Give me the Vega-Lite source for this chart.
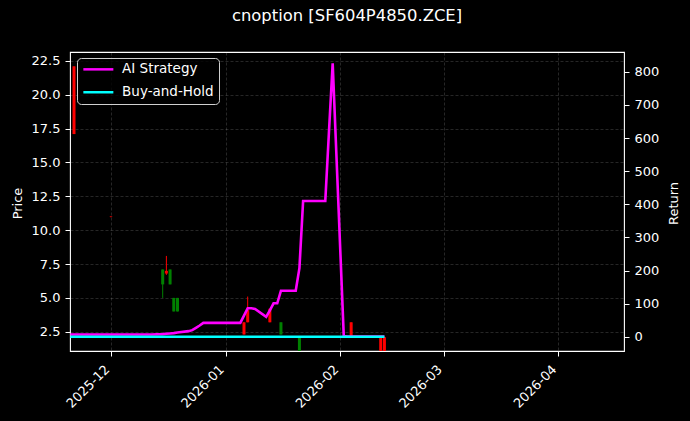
{
  "$schema": "https://vega.github.io/schema/vega-lite/v6.json",
  "width": 554,
  "height": 299,
  "autosize": "none",
  "padding": {"left": 70, "top": 52, "right": 66, "bottom": 70},
  "background": "#000000",
  "title": {
    "text": "cnoption [SF604P4850.ZCE]",
    "font": "DejaVu Sans",
    "fontSize": 16.4,
    "fontWeight": "normal",
    "color": "#ffffff",
    "anchor": "middle",
    "frame": "group",
    "baseline": "alphabetic",
    "offset": 15
  },
  "config": {
    "view": {"stroke": "#ffffff", "strokeWidth": 1.1},
    "font": "DejaVu Sans",
    "axis": {
      "labelColor": "#ffffff",
      "labelFont": "DejaVu Sans",
      "labelFontSize": 13,
      "labelPadding": 5,
      "titleColor": "#ffffff",
      "titleFont": "DejaVu Sans",
      "titleFontSize": 13,
      "titleFontWeight": "normal",
      "tickColor": "#ffffff",
      "tickSize": 5,
      "tickWidth": 1,
      "domain": false,
      "grid": true,
      "gridColor": "#ffffff",
      "gridOpacity": 0.25,
      "gridDash": [3, 2],
      "gridWidth": 0.6
    },
    "legend": {
      "orient": "none",
      "legendX": 7,
      "legendY": 6,
      "direction": "vertical",
      "symbolType": "M-1,0H5",
      "symbolSize": 100,
      "symbolStrokeWidth": 2.5,
      "labelFont": "DejaVu Sans",
      "labelFontSize": 13.5,
      "labelColor": "#ffffff",
      "labelOffset": 27,
      "padding": 4.6,
      "rowPadding": 7.9,
      "fillColor": "rgba(0,0,0,0.8)",
      "strokeColor": "#d0d0d0",
      "cornerRadius": 4
    }
  },
  "datasets": {
    "candles": [
      {"date": "2025-11-21", "open": 22.1, "high": 22.1, "low": 17.1, "close": 17.1},
      {"date": "2025-12-01", "open": 11.02, "high": 11.05, "low": 10.95, "close": 11.0},
      {"date": "2025-12-15", "open": 6.0, "high": 7.1, "low": 5.0, "close": 7.1},
      {"date": "2025-12-16", "open": 7.0, "high": 8.1, "low": 6.7, "close": 6.8},
      {"date": "2025-12-17", "open": 6.0, "high": 7.1, "low": 6.0, "close": 7.1},
      {"date": "2025-12-18", "open": 4.0, "high": 5.0, "low": 4.0, "close": 5.0},
      {"date": "2025-12-19", "open": 4.0, "high": 5.0, "low": 4.0, "close": 5.0},
      {"date": "2026-01-06", "open": 3.2, "high": 3.2, "low": 2.3, "close": 2.3},
      {"date": "2026-01-07", "open": 4.1, "high": 5.1, "low": 3.2, "close": 3.2},
      {"date": "2026-01-13", "open": 4.2, "high": 4.2, "low": 3.2, "close": 3.2},
      {"date": "2026-01-16", "open": 2.3, "high": 3.2, "low": 2.3, "close": 3.2},
      {"date": "2026-01-21", "open": 0.9, "high": 2.1, "low": 0.9, "close": 2.1},
      {"date": "2026-02-04", "open": 3.2, "high": 3.2, "low": 2.2, "close": 2.2},
      {"date": "2026-02-12", "open": 2.1, "high": 2.1, "low": 0.5, "close": 0.5},
      {"date": "2026-02-13", "open": 2.1, "high": 2.1, "low": 0.5, "close": 0.5}
    ],
    "returns": [
      {"date": "2025-11-20", "ai": 7, "bh": 0},
      {"date": "2025-11-21", "ai": 7, "bh": 0},
      {"date": "2025-11-24", "ai": 7, "bh": 0},
      {"date": "2025-11-25", "ai": 7, "bh": 0},
      {"date": "2025-11-26", "ai": 7, "bh": 0},
      {"date": "2025-11-27", "ai": 7, "bh": 0},
      {"date": "2025-11-28", "ai": 7, "bh": 0},
      {"date": "2025-12-01", "ai": 7, "bh": 0},
      {"date": "2025-12-02", "ai": 7, "bh": 0},
      {"date": "2025-12-03", "ai": 7, "bh": 0},
      {"date": "2025-12-04", "ai": 7, "bh": 0},
      {"date": "2025-12-05", "ai": 7, "bh": 0},
      {"date": "2025-12-08", "ai": 7, "bh": 0},
      {"date": "2025-12-09", "ai": 7, "bh": 0},
      {"date": "2025-12-10", "ai": 7, "bh": 0},
      {"date": "2025-12-11", "ai": 7, "bh": 0},
      {"date": "2025-12-12", "ai": 7, "bh": 0},
      {"date": "2025-12-15", "ai": 8, "bh": 0},
      {"date": "2025-12-16", "ai": 9, "bh": 0},
      {"date": "2025-12-17", "ai": 10, "bh": 0},
      {"date": "2025-12-18", "ai": 11, "bh": 0},
      {"date": "2025-12-19", "ai": 13, "bh": 0},
      {"date": "2025-12-22", "ai": 17, "bh": 0},
      {"date": "2025-12-23", "ai": 20, "bh": 0},
      {"date": "2025-12-24", "ai": 27, "bh": 0},
      {"date": "2025-12-25", "ai": 34, "bh": 0},
      {"date": "2025-12-26", "ai": 42, "bh": 0},
      {"date": "2025-12-29", "ai": 42, "bh": 0},
      {"date": "2025-12-30", "ai": 42, "bh": 0},
      {"date": "2025-12-31", "ai": 42, "bh": 0},
      {"date": "2026-01-05", "ai": 42, "bh": 0},
      {"date": "2026-01-06", "ai": 64, "bh": 0},
      {"date": "2026-01-07", "ai": 86, "bh": 0},
      {"date": "2026-01-08", "ai": 86, "bh": 0},
      {"date": "2026-01-09", "ai": 84, "bh": 0},
      {"date": "2026-01-12", "ai": 60, "bh": 0},
      {"date": "2026-01-13", "ai": 80, "bh": 0},
      {"date": "2026-01-14", "ai": 101, "bh": 0},
      {"date": "2026-01-15", "ai": 101, "bh": 0},
      {"date": "2026-01-16", "ai": 139, "bh": 0},
      {"date": "2026-01-19", "ai": 139, "bh": 0},
      {"date": "2026-01-20", "ai": 139, "bh": 0},
      {"date": "2026-01-21", "ai": 207, "bh": 0},
      {"date": "2026-01-22", "ai": 410, "bh": 0},
      {"date": "2026-01-23", "ai": 410, "bh": 0},
      {"date": "2026-01-26", "ai": 410, "bh": 0},
      {"date": "2026-01-27", "ai": 410, "bh": 0},
      {"date": "2026-01-28", "ai": 410, "bh": 0},
      {"date": "2026-01-29", "ai": 620, "bh": 0},
      {"date": "2026-01-30", "ai": 826, "bh": 0},
      {"date": "2026-02-02", "ai": 2, "bh": 0},
      {"date": "2026-02-03", "ai": 1, "bh": 0},
      {"date": "2026-02-04", "ai": 1, "bh": 0},
      {"date": "2026-02-05", "ai": 1, "bh": 0},
      {"date": "2026-02-06", "ai": 1, "bh": 0},
      {"date": "2026-02-09", "ai": 1, "bh": 0},
      {"date": "2026-02-10", "ai": 1, "bh": 0},
      {"date": "2026-02-11", "ai": 1, "bh": 0},
      {"date": "2026-02-12", "ai": 1, "bh": 0},
      {"date": "2026-02-13", "ai": 1, "bh": 0}
    ]
  },
  "encoding": {
    "x": {
      "field": "date",
      "type": "temporal",
      "scale": {
        "type": "utc",
        "domain": [
          {"year": 2025, "month": 11, "date": 19, "hours": 22, "utc": true},
          {"year": 2026, "month": 4, "date": 18, "hours": 20, "utc": true}
        ],
        "nice": false
      },
      "axis": {
        "title": null,
        "values": [
          {"year": 2025, "month": 12, "date": 1, "utc": true},
          {"year": 2026, "month": 1, "date": 1, "utc": true},
          {"year": 2026, "month": 2, "date": 1, "utc": true},
          {"year": 2026, "month": 3, "date": 1, "utc": true},
          {"year": 2026, "month": 4, "date": 1, "utc": true}
        ],
        "format": "%Y-%m",
        "labelAngle": -45,
        "labelAlign": "right",
        "labelBaseline": "middle",
        "labelPadding": 11,
        "labelOffset": -4
      }
    }
  },
  "layer": [
    {
      "data": {"name": "candles"},
      "encoding": {
        "y": {
          "field": "low",
          "type": "quantitative",
          "scale": {"domain": [1.08, 23.16], "nice": false, "zero": false},
          "axis": {
            "orient": "left",
            "title": "Price",
            "values": [2.5, 5, 7.5, 10, 12.5, 15, 17.5, 20, 22.5],
            "format": ".1f",
            "titleAngle": 270,
            "titleBaseline": "alphabetic",
            "titleX": -48.3,
            "titleY": 151
          }
        },
        "y2": {"field": "high"},
        "color": {
          "condition": {"test": "datum.close >= datum.open", "value": "#008000"},
          "value": "#ff0000"
        }
      },
      "layer": [
        {"mark": {"type": "rule", "strokeWidth": 1, "clip": true}},
        {
          "mark": {"type": "rule", "strokeWidth": 3, "clip": true},
          "encoding": {
            "y": {
              "field": "open",
              "type": "quantitative",
              "scale": {"domain": [1.08, 23.16], "nice": false, "zero": false},
              "axis": {
                "orient": "left",
                "title": "Price",
                "values": [2.5, 5, 7.5, 10, 12.5, 15, 17.5, 20, 22.5],
                "format": ".1f",
                "titleAngle": 270,
                "titleBaseline": "alphabetic",
                "titleX": -48.3,
                "titleY": 151
              }
            },
            "y2": {"field": "close"}
          }
        }
      ]
    },
    {
      "data": {"name": "returns"},
      "layer": [
        {
          "mark": {"type": "line", "strokeWidth": 2.6, "clip": true},
          "encoding": {
            "y": {
              "field": "ai",
              "type": "quantitative",
              "scale": {"domain": [-43, 860], "nice": false, "zero": false},
              "axis": {
                "orient": "right",
                "title": "Return",
                "values": [0, 100, 200, 300, 400, 500, 600, 700, 800],
                "titleAngle": 270,
                "titleBaseline": "alphabetic",
                "titleX": 53,
                "titleY": 151
              }
            },
            "color": {
              "datum": "AI Strategy",
              "scale": {"domain": ["AI Strategy", "Buy-and-Hold"], "range": ["#ff00ff", "#00ffff"]},
              "legend": {"title": null}
            }
          }
        },
        {
          "mark": {"type": "line", "strokeWidth": 2.6, "clip": true},
          "encoding": {
            "y": {
              "field": "bh",
              "type": "quantitative",
              "scale": {"domain": [-43, 860], "nice": false, "zero": false},
              "axis": {
                "orient": "right",
                "title": "Return",
                "values": [0, 100, 200, 300, 400, 500, 600, 700, 800],
                "titleAngle": 270,
                "titleBaseline": "alphabetic",
                "titleX": 53,
                "titleY": 151
              }
            },
            "color": {"datum": "Buy-and-Hold"}
          }
        }
      ]
    }
  ],
  "resolve": {"scale": {"y": "independent"}}
}
